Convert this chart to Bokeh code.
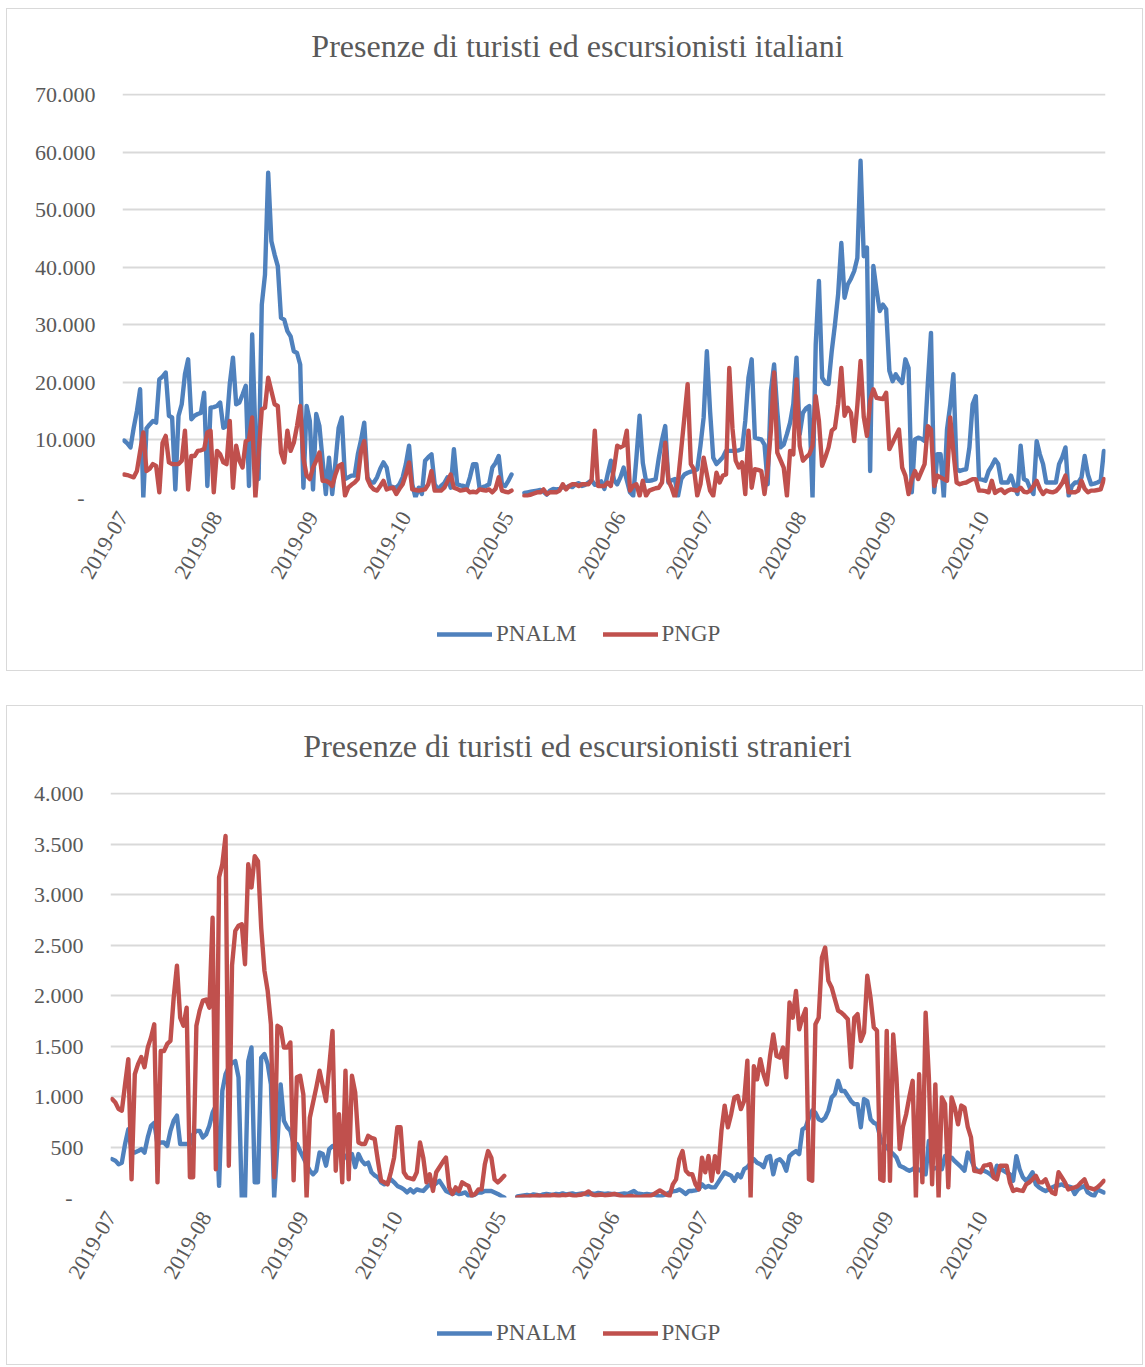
import math
import numpy as np
from bokeh.plotting import figure
from bokeh.models import Range1d, FixedTicker, Legend, LegendItem, ColumnDataSource, Label
from bokeh.layouts import column
from bokeh.embed import file_html
from bokeh.resources import INLINE

# ---------------- data (daily presences; 2019 Jul-Oct, 2020 May-Oct) ----------------
x_labels = ["2019-07", "2019-08", "2019-09", "2019-10", "2020-05",
            "2020-06", "2020-07", "2020-08", "2020-09", "2020-10"]
x_label_pos = [-0.4, 29, 59, 88, 120, 155, 182.5, 211.5, 239.5, 268.5]
gap_days = 3

ita_pnalm_2019 = [
    9900, 9400, 8700, 12100, 15000, 18800, 0, 12000, 12700, 13300,
    13000, 20500, 21000, 21700, 14200, 13900, 1400, 14200, 16200, 21400,
    24000, 13600, 14200, 14500, 14700, 18200, 2000, 15600, 15700, 15900,
    16500, 12100, 12400, 19700, 24300, 16200, 16500, 17900, 19400, 2000,
    28300, 11000, 3200, 33500, 38700, 56400, 44500, 42200, 40200, 31200,
    30900, 28900, 28000, 25400, 25100, 23100, 1700, 15900, 13300, 1400,
    14500, 12400, 6400, 600, 6900, 600, 6000, 12100, 13900, 3200,
    3500, 3800, 3800, 7500, 10000, 13000, 3500, 2600, 2600, 3500,
    5000, 6100, 5200, 2000, 1800, 1700, 2300, 3500, 5800, 9000,
    2300, 0, 1700, 600, 6400, 7000, 7500, 2300, 1400, 2000,
    2500, 3500, 1700, 8400, 2300, 2100, 2000, 1700, 3500, 5800,
    5800, 1700, 1800, 2000, 2300, 5200, 6000, 7200, 2300, 2000,
    2900, 4000]
ita_pngp_2019 = [
    4000, 3900, 3700, 3500, 4600, 8000, 11300, 4600, 5000, 5800,
    5500, 900, 9500, 10700, 6100, 5800, 5800, 5800, 6400, 11600,
    1400, 7200, 7200, 8100, 8200, 8400, 11300, 11600, 900, 8100,
    7500, 6100, 5800, 13300, 1700, 9000, 6400, 5200, 9800, 10100,
    13900, 0, 7500, 15300, 15600, 20800, 18500, 16200, 15900, 7800,
    6100, 11600, 8100, 9500, 12400, 15900, 6900, 3800, 3200, 5200,
    6400, 7800, 2900, 2900, 2600, 2000, 4000, 5500, 5800, 300,
    1700, 2200, 2600, 3200, 8100, 9800, 3200, 2000, 1400, 1200,
    2000, 2900, 1400, 1600, 1700, 600, 1500, 2300, 4000, 6100,
    1400, 1300, 1200, 1300, 1400, 2300, 4600, 1200, 1200, 1200,
    1700, 2800, 4000, 1700, 1500, 1200, 1300, 1400, 900, 1000,
    900, 1400, 1300, 1200, 1400, 900, 1500, 3500, 1200, 1000,
    900, 1200]
ita_pnalm_2020 = [
    800, 900, 1000, 1100, 1200, 1300, 1000, 500, 1200, 1500,
    1400, 1500, 1800, 1700, 2000, 1800, 2300, 2500, 2000, 2200,
    2600, 3000, 2200, 2400, 2800, 1500, 4000, 6400, 3000, 2300,
    3500, 5200, 3000, 900, 300, 6900, 14200, 6000, 2900, 2900,
    3000, 3200, 6900, 10000, 12400, 2600, 3000, 3200, 300, 3200,
    4000, 4300, 4500, 4600, 4900, 9000, 13900, 25400, 15000, 6900,
    5800, 6400, 7000, 8100, 8100, 8100, 8100, 8200, 8400, 13300,
    20800, 24000, 10400, 10200, 10100, 9200, 2300, 18500, 23100, 15000,
    8700, 9200, 11000, 13000, 16200, 24300, 11000, 14700, 15500, 15900,
    0, 26600, 37600, 20800, 19900, 19700, 25400, 30000, 35300, 44200,
    34700, 37000, 38000, 39300, 41600, 58500, 41900, 43400, 4600, 40200,
    36000, 32400, 33500, 32700, 22000, 20200, 21400, 20500, 19900, 24000,
    22500, 900, 10100, 10400, 10200, 9800, 19700, 28600, 900, 7500,
    7500, 0, 11800, 16000, 21400, 4900, 4600, 4800, 4900, 8700,
    16200, 17600, 3200, 3100, 2900, 4600, 5500, 6600, 5800, 2600,
    2600, 2600, 3800, 2000, 600, 9000, 3200, 2900, 1500, 600,
    9800, 7500, 5800, 2600, 2600, 2600, 2600, 5800, 7000, 8700,
    300, 2000, 2600, 2600, 3500, 7200, 4000, 2300, 2400, 2600,
    2900, 8100]
ita_pngp_2020 = [
    300, 300, 500, 700, 900, 900, 1400, 600, 900, 900,
    900, 1200, 2300, 1400, 2000, 2300, 2300, 2000, 2300, 2300,
    2300, 3000, 11600, 2000, 2000, 2000, 2600, 2000, 5000, 9000,
    8700, 9000, 11600, 1200, 2000, 2300, 300, 2900, 300, 1200,
    1400, 1600, 1700, 2600, 9500, 2900, 1700, 0, 2900, 8400,
    14000, 19700, 5800, 4900, 300, 2300, 6900, 4000, 1200, 300,
    4300, 2600, 3800, 4000, 22500, 12000, 6400, 5200, 6100, 600,
    11600, 1700, 4900, 4800, 4600, 600, 5000, 11600, 21700, 7800,
    6500, 5200, 300, 8100, 7500, 20500, 9000, 6400, 7000, 7500,
    9000, 17600, 13300, 5500, 7000, 8700, 11600, 12100, 16200, 22500,
    14200, 15600, 14700, 9800, 16000, 23700, 14000, 10700, 16800, 18800,
    17300, 17200, 17100, 18200, 8400, 9500, 10700, 11800, 5200, 3800,
    600, 3200, 4600, 3200, 4500, 5800, 12400, 11800, 2000, 3800,
    3500, 3200, 2900, 13900, 8000, 2600, 2300, 2500, 2600, 2900,
    3200, 3200, 1200, 1200, 1100, 900, 2900, 800, 1200, 1400,
    800, 1200, 1400, 1300, 1200, 1700, 1000, 900, 1200, 2000,
    2900, 1500, 600, 1200, 1000, 900, 1100, 1700, 2500, 3800,
    900, 900, 900, 1200, 2900, 1500, 900, 1200, 1200, 1300,
    1400, 3200]

str_pnalm_2019 = [
    380, 365, 330, 345, 530, 675, 460, 445, 460, 480,
    445, 595, 710, 740, 530, 545, 545, 510, 660, 760,
    810, 530, 530, 530, 530, 625, 660, 660, 595, 625,
    710, 840, 910, 115, 1055, 1220, 1290, 1335, 1350, 1190,
    0, 0, 1350, 1485, 150, 150, 1385, 1420, 1320, 1120,
    0, 530, 1120, 760, 695, 660, 530, 530, 460, 395,
    330, 265, 230, 265, 445, 430, 315, 480, 510, 495,
    430, 430, 410, 365, 430, 300, 430, 365, 330, 345,
    250, 220, 200, 150, 130, 150, 180, 150, 115, 100,
    80, 50, 80, 50, 80, 70, 65, 100, 130, 115,
    140, 165, 115, 65, 50, 35, 50, 35, 40, 50,
    15, 15, 30, 50, 50, 65, 65, 65, 50, 35,
    15, 0]
str_pngp_2019 = [
    975, 940, 875, 860, 1120, 1370, 180, 1220, 1320, 1390,
    1290, 1485, 1585, 1715, 150, 1450, 1450, 1520, 1550, 1980,
    2295, 1780, 1700, 1880, 200, 200, 1700, 1850, 1950, 1960,
    1880, 2770, 280, 3170, 3300, 3580, 315, 2300, 2640, 2690,
    2705, 2310, 3300, 3070, 3380, 3330, 2670, 2245, 2045, 1715,
    200, 1700, 1680, 1485, 1485, 1535, 170, 1190, 1205, 1020,
    0, 790, 940, 1090, 1255, 1105, 955, 1300, 1650, 265,
    825, 150, 1255, 180, 1205, 1040, 545, 530, 530, 610,
    590, 580, 365, 165, 150, 130, 250, 395, 695, 695,
    250, 200, 190, 180, 250, 545, 395, 150, 230, 65,
    250, 300, 350, 395, 100, 35, 100, 65, 150, 130,
    115, 15, 35, 80, 80, 330, 460, 395, 180, 150,
    180, 215]
str_pnalm_2020 = [
    10, 15, 20, 25, 20, 30, 25, 20, 30, 35,
    30, 25, 35, 30, 40, 30, 35, 40, 30, 35,
    40, 35, 30, 40, 35, 45, 40, 35, 40, 35,
    35, 30, 35, 40, 35, 50, 65, 40, 35, 30,
    35, 30, 30, 20, 5, 20, 35, 50, 60, 65,
    80, 60, 35, 65, 65, 70, 80, 130, 100, 115,
    100, 100, 150, 200, 250, 230, 215, 165, 230, 200,
    280, 300, 340, 380, 345, 330, 300, 395, 410, 230,
    365, 380, 345, 265, 410, 440, 460, 430, 675, 695,
    790, 860, 840, 775, 760, 790, 860, 990, 1025, 1155,
    1055, 1055, 1005, 955, 925, 925, 695, 975, 955, 775,
    740, 725, 595, 530, 495, 460, 430, 395, 315, 300,
    280, 265, 280, 300, 270, 265, 230, 560, 280, 290,
    300, 280, 410, 400, 395, 360, 330, 300, 265, 445,
    380, 300, 265, 265, 265, 250, 230, 200, 315, 290,
    265, 245, 230, 165, 410, 280, 200, 165, 200, 250,
    130, 100, 80, 65, 80, 100, 115, 120, 130, 115,
    110, 100, 35, 80, 100, 115, 50, 30, 15, 80,
    65, 50]
str_pngp_2020 = [
    0, 5, 10, 5, 15, 10, 20, 15, 10, 20,
    15, 25, 20, 15, 25, 20, 30, 20, 15, 25,
    30, 40, 60, 30, 20, 25, 30, 20, 25, 30,
    35, 25, 15, 0, 10, 15, 10, 5, 5, 10,
    15, 15, 30, 50, 70, 50, 30, 15, 130, 180,
    380, 460, 265, 230, 230, 130, 80, 395, 250, 410,
    165, 410, 250, 660, 910, 695, 825, 990, 1005, 875,
    955, 1355, 0, 1300, 1170, 1370, 1220, 1120, 1400, 1615,
    1400, 1385, 1485, 1190, 1930, 1780, 2045, 1665, 1780, 1865,
    180, 165, 1715, 1780, 2375, 2475, 2145, 2080, 1965, 1850,
    1830, 1800, 1765, 1290, 1780, 1815, 1550, 1635, 2195, 1980,
    1685, 1650, 180, 165, 1650, 165, 1615, 1190, 480, 700,
    825, 1000, 1155, 0, 1220, 150, 1830, 1190, 130, 1120,
    0, 990, 925, 100, 990, 890, 725, 910, 890, 700,
    595, 265, 258, 250, 315, 320, 330, 200, 180, 315,
    315, 315, 150, 65, 80, 70, 65, 130, 150, 180,
    215, 150, 150, 180, 100, 50, 35, 250, 200, 150,
    80, 90, 100, 115, 150, 180, 100, 90, 80, 100,
    130, 165]

ita_ticks = [0, 10000, 20000, 30000, 40000, 50000, 60000, 70000]
ita_tick_labels = ["-", "10.000", "20.000", "30.000", "40.000", "50.000", "60.000", "70.000"]
str_ticks = [0, 500, 1000, 1500, 2000, 2500, 3000, 3500, 4000]
str_tick_labels = ["-", "500", "1.000", "1.500", "2.000", "2.500", "3.000", "3.500", "4.000"]
series_names = ["PNALM", "PNGP"]

# ---------------- styling ----------------
FONT = "Liberation Serif"
TXT = "#595959"
BLUE = "#4F81BD"
RED = "#C0504D"
GRID = "#D9D9D9"
W = 1135
LW = 4.4


def series(a2019, a2020):
    return np.array(list(a2019) + [np.nan] * gap_days + list(a2020), dtype=float)


def blank_fig(height, left, frame_w):
    q = figure(frame_width=frame_w, frame_height=height,
               min_border_left=left, min_border_right=W - left - frame_w,
               min_border_top=0, min_border_bottom=0,
               x_range=Range1d(0, 1), y_range=Range1d(0, 1),
               x_axis_location=None, y_axis_location=None,
               output_backend="svg", toolbar_location=None)
    q.outline_line_color = None
    q.background_fill_color = "white"
    q.border_fill_color = "white"
    q.xgrid.visible = False
    q.ygrid.visible = False
    return q


def make_title(text, height, left, frame_w, cx, cy):
    q = blank_fig(height, left, frame_w)
    q.add_layout(Label(x=cx, y=cy, x_units="screen", y_units="screen", text=text,
                       text_font=FONT, text_font_size="32px", text_color=TXT,
                       text_align="center", text_baseline="middle"))
    return q


def make_chart(s_blue, s_red, ticks, tick_labels, height, left, top, frame_w, frame_h):
    n = len(s_blue)
    x = np.arange(n)
    # one extra pixel above the top tick so that its gridline is not clipped
    y_end = ticks[-1] * (frame_h + 1) / frame_h
    p = figure(frame_width=frame_w, frame_height=frame_h + 1,
               min_border_left=left, min_border_right=W - left - frame_w,
               min_border_top=top - 1, min_border_bottom=height - top - frame_h,
               x_range=Range1d(-0.5, n - 0.5), y_range=Range1d(ticks[0], y_end),
               output_backend="svg", toolbar_location=None)
    p.outline_line_color = None
    p.background_fill_color = "white"
    p.border_fill_color = "white"

    src = ColumnDataSource(dict(x=x, blue=s_blue, red=s_red))
    p.line("x", "blue", source=src, line_color=BLUE, line_width=LW,
           line_join="round", line_cap="round")
    p.line("x", "red", source=src, line_color=RED, line_width=LW,
           line_join="round", line_cap="round")

    # y axis
    p.yaxis.ticker = FixedTicker(ticks=ticks)
    ov = {}
    for t, lab in zip(ticks, tick_labels):
        ov[t] = lab + "\u2007" if lab == "-" else lab
    p.yaxis.major_label_overrides = ov
    p.yaxis.axis_line_color = None
    p.yaxis.major_tick_line_color = None
    p.yaxis.minor_tick_line_color = None
    p.yaxis.major_label_text_font = FONT
    p.yaxis.major_label_text_font_size = "22px"
    p.yaxis.major_label_text_color = TXT
    p.yaxis.major_label_standoff = 21

    # x axis
    p.xaxis.ticker = FixedTicker(ticks=x_label_pos)
    p.xaxis.major_label_overrides = {t: lab for t, lab in zip(x_label_pos, x_labels)}
    p.xaxis.axis_line_color = None
    p.xaxis.major_tick_line_color = None
    p.xaxis.minor_tick_line_color = None
    p.xaxis.major_label_orientation = math.pi / 3
    p.xaxis.major_label_text_font = FONT
    p.xaxis.major_label_text_font_size = "22px"
    p.xaxis.major_label_text_color = TXT
    p.xaxis.major_label_standoff = 10

    p.xgrid.grid_line_color = None
    p.ygrid.ticker = FixedTicker(ticks=ticks)
    p.ygrid.grid_line_color = GRID
    p.ygrid.grid_line_width = 2
    return p


def make_legend(height, left, frame_w, legend_x, legend_y):
    q = blank_fig(height, left, frame_w)
    rb = q.line([np.nan, np.nan], [np.nan, np.nan], line_color=BLUE, line_width=LW,
                line_join="round", line_cap="round")
    rr = q.line([np.nan, np.nan], [np.nan, np.nan], line_color=RED, line_width=LW,
                line_join="round", line_cap="round")
    leg = Legend(items=[LegendItem(label=series_names[0], renderers=[rb]),
                        LegendItem(label=series_names[1], renderers=[rr])],
                 orientation="horizontal", location=(legend_x, legend_y), margin=0,
                 glyph_width=55, glyph_height=22, label_standoff=4, spacing=26,
                 padding=0, border_line_color=None, background_fill_alpha=0,
                 label_text_font=FONT, label_text_font_size="23px", label_text_color=TXT)
    q.add_layout(leg, "center")
    return q


t1 = make_title("Presenze di turisti ed escursionisti italiani", 60, 115, 983, 455, 24)
p1 = make_chart(series(ita_pnalm_2019, ita_pnalm_2020), series(ita_pngp_2019, ita_pngp_2020),
                ita_ticks, ita_tick_labels, height=540, left=115, top=25,
                frame_w=983, frame_h=403)
l1 = make_legend(61, 115, 983, 315, 23)

t2 = make_title("Presenze di turisti ed escursionisti stranieri", 60, 103, 995, 467, 21)
p2 = make_chart(series(str_pnalm_2019, str_pnalm_2020), series(str_pngp_2019, str_pngp_2020),
                str_ticks, str_tick_labels, height=540, left=103, top=27,
                frame_w=995, frame_h=404)
l2 = make_legend(58, 103, 995, 327, 18)

box1 = column(column(t1), column(p1), column(l1), styles={"border": "1px solid #D9D9D9"})
box2 = column(column(t2), column(p2), column(l2), styles={"border": "1px solid #D9D9D9"})
layout = column(box1, box2, spacing=34, margin=(8, 0, 0, 6))
open("out.html", "w").write(file_html(layout, INLINE))
